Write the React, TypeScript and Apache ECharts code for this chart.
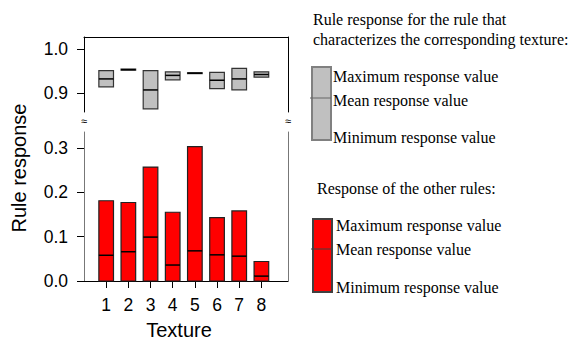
import React, { useEffect, useRef } from "react";
import * as echarts from "echarts";

const textures = [1, 2, 3, 4, 5, 6, 7, 8];
// Rule response of the rule that characterizes the texture
const ruleMin = [0.914, 0.952, 0.864, 0.930, 0.944, 0.910, 0.907, 0.936];
const ruleMean = [0.932, 0.953, 0.907, 0.940, 0.945, 0.929, 0.932, 0.942];
const ruleMax = [0.951, 0.954, 0.951, 0.948, 0.946, 0.947, 0.956, 0.948];
// Response of the other rules
const otherMin = [0, 0, 0, 0, 0, 0, 0, 0];
const otherMean = [0.058, 0.066, 0.099, 0.036, 0.068, 0.059, 0.056, 0.011];
const otherMax = [0.181, 0.177, 0.257, 0.155, 0.303, 0.143, 0.158, 0.044];

const topTicks = [0.9, 1.0];
const bottomTicks = [0, 0.1, 0.2, 0.3];

const SANS = "'Liberation Sans', Arial, sans-serif";
const SERIF = "'Liberation Serif', 'Times New Roman', serif";

function makeRender(fill: string, stroke: string) {
  return (params: any, api: any) => {
    const x = api.value(0);
    const lo = api.value(1);
    const mean = api.value(2);
    const hi = api.value(3);
    const pLo = api.coord([x, lo]);
    const pHi = api.coord([x, hi]);
    const pM = api.coord([x, mean]);
    const w = api.size([0.66, 0])[0];
    return {
      type: "group",
      children: [
        {
          type: "rect",
          shape: { x: pLo[0] - w / 2, y: pHi[1], width: w, height: Math.max(pLo[1] - pHi[1], 0.5) },
          style: { fill, stroke, lineWidth: 1.2 },
        },
        {
          type: "line",
          shape: { x1: pLo[0] - w / 2, y1: pM[1], x2: pLo[0] + w / 2, y2: pM[1] },
          style: { stroke: "#000", lineWidth: 1.5 },
        },
      ],
    };
  };
}

export default function App() {
  const ref = useRef<HTMLDivElement>(null);
  useEffect(() => {
    if (!ref.current) return;
    const chart = echarts.init(ref.current, null, { renderer: "svg" });
    const topData = textures.map((t, i) => [t, ruleMin[i], ruleMean[i], ruleMax[i]]);
    const bottomData = textures.map((t, i) => [t, otherMin[i], otherMean[i], otherMax[i]]);
    const lineOnly = (color: string) => ({
      axisLine: { show: true, lineStyle: { color, width: 1 } },
      axisTick: { show: false },
      axisLabel: { show: false },
      splitLine: { show: false },
    });
    const legendText = (text: string, x: number, y: number) => ({
      type: "text",
      x,
      y,
      style: { text, fill: "#000", font: `16px ${SERIF}`, textVerticalAlign: "middle", textAlign: "left" },
    });
    chart.setOption({
      animation: false,
      backgroundColor: "#fff",
      textStyle: { fontFamily: SANS },
      grid: [
        { left: 84, top: 37, width: 204, height: 75 },
        { left: 84, top: 132, width: 204, height: 149 },
      ],
      xAxis: [
        { gridIndex: 0, type: "value", min: 0, max: 9.2, position: "top", ...lineOnly("#000") },
        {
          gridIndex: 1,
          type: "value",
          min: 0,
          max: 9.2,
          position: "bottom",
          axisLine: { show: true, lineStyle: { color: "#000", width: 1 } },
          axisTick: { show: true, customValues: textures, length: 7, lineStyle: { color: "#000" } },
          axisLabel: { show: true, customValues: textures, fontSize: 17.5, color: "#000", margin: 15, fontFamily: SANS },
          splitLine: { show: false },
        },
      ],
      yAxis: [
        {
          gridIndex: 0,
          type: "value",
          min: 0.857,
          max: 1.027,
          axisLine: { show: true, lineStyle: { color: "#000", width: 1 } },
          axisTick: { show: true, customValues: topTicks, length: 7, lineStyle: { color: "#000" } },
          axisLabel: {
            show: true,
            customValues: topTicks,
            fontSize: 17.5,
            color: "#000",
            margin: 16,
            fontFamily: SANS,
            formatter: (v: number) => v.toFixed(1),
          },
          splitLine: { show: false },
        },
        { gridIndex: 0, type: "value", min: 0.857, max: 1.027, position: "right", ...lineOnly("#000") },
        {
          gridIndex: 1,
          type: "value",
          min: 0,
          max: 0.336,
          axisLine: { show: true, lineStyle: { color: "#777", width: 1 } },
          axisTick: { show: true, customValues: bottomTicks, length: 7, lineStyle: { color: "#000" } },
          axisLabel: {
            show: true,
            customValues: bottomTicks,
            fontSize: 17.5,
            color: "#000",
            margin: 16,
            fontFamily: SANS,
            formatter: (v: number) => v.toFixed(1),
          },
          splitLine: { show: false },
        },
        { gridIndex: 1, type: "value", min: 0, max: 0.336, position: "right", ...lineOnly("#777") },
      ],
      series: [
        {
          name: "Rule response for the rule that characterizes the corresponding texture",
          type: "custom",
          xAxisIndex: 0,
          yAxisIndex: 0,
          data: topData,
          encode: { x: 0, y: [1, 2, 3] },
          renderItem: makeRender("#c0c0c0", "#333"),
        },
        {
          name: "Response of the other rules",
          type: "custom",
          xAxisIndex: 1,
          yAxisIndex: 2,
          data: bottomData,
          encode: { x: 0, y: [1, 2, 3] },
          renderItem: makeRender("#ff0000", "#222"),
        },
      ],
      graphic: [
        {
          type: "text",
          x: 19,
          y: 168,
          rotation: Math.PI / 2,
          style: { text: "Rule response", fill: "#000", font: `20px ${SANS}`, textAlign: "center", textVerticalAlign: "middle" },
        },
        {
          type: "text",
          x: 179,
          y: 330,
          style: { text: "Texture", fill: "#000", font: `20px ${SANS}`, textAlign: "center", textVerticalAlign: "middle" },
        },
        { type: "text", x: 84, y: 121, style: { text: "≈", fill: "#000", font: `11px ${SANS}`, textAlign: "center", textVerticalAlign: "middle" } },
        { type: "text", x: 288, y: 121, style: { text: "≈", fill: "#000", font: `11px ${SANS}`, textAlign: "center", textVerticalAlign: "middle" } },
        legendText("Rule response for the rule that", 313, 19),
        legendText("characterizes the corresponding texture:", 313, 39),
        { type: "rect", shape: { x: 312, y: 67, width: 19, height: 73 }, style: { fill: "#c0c0c0", stroke: "#808080", lineWidth: 2 } },
        { type: "line", shape: { x1: 310, y1: 98, x2: 331, y2: 98 }, style: { stroke: "#666", lineWidth: 1 } },
        legendText("Maximum response value", 333, 76),
        legendText("Mean response value", 333, 100),
        legendText("Minimum response value", 333, 137),
        legendText("Response of the other rules:", 317, 188),
        { type: "rect", shape: { x: 313, y: 219, width: 19, height: 73 }, style: { fill: "#ff0000", stroke: "#404040", lineWidth: 2 } },
        { type: "line", shape: { x1: 311, y1: 249, x2: 332, y2: 249 }, style: { stroke: "#404040", lineWidth: 1 } },
        legendText("Maximum response value", 336, 225),
        legendText("Mean response value", 336, 249),
        legendText("Minimum response value", 336, 287),
      ],
    });
    return () => chart.dispose();
  }, []);
  return <div ref={ref} style={{ width: 571, height: 342, position: "absolute", left: 0, top: 0 }} />;
}
